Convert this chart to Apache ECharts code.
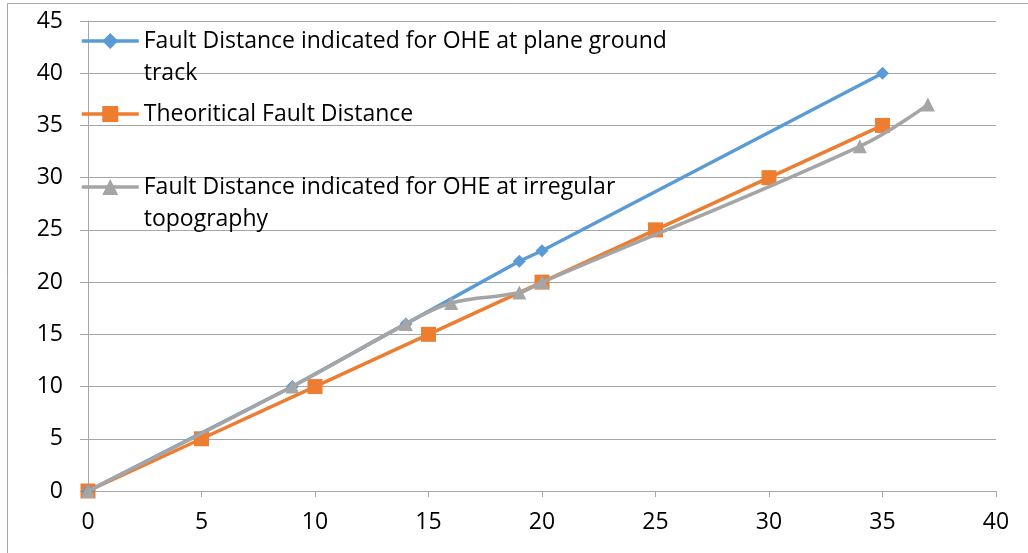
<!DOCTYPE html>
<html><head><meta charset="utf-8">
<script src="https://cdn.jsdelivr.net/npm/echarts@6/dist/echarts.min.js"></script>
<style>html,body{margin:0;padding:0;background:#fff;}#c{width:1028px;height:553px;}</style>
</head><body><div id="c"></div>
<script>
var seriesNames = [
  'Fault Distance indicated for OHE at plane ground track',
  'Theoritical Fault Distance',
  'Fault Distance indicated for OHE at irregular topography'
];
var legendLines = [
  ['Fault Distance indicated for OHE at plane ground', 'track'],
  ['Theoritical Fault Distance'],
  ['Fault Distance indicated for OHE at irregular', 'topography']
];
var planeX = [0, 9, 14, 19, 20, 35];
var planeY = [0, 10, 16, 22, 23, 40];
var theoX = [0, 5, 10, 15, 20, 25, 30, 35];
var theoY = [0, 5, 10, 15, 20, 25, 30, 35];
var irregX = [0, 9, 14, 16, 19, 20, 34, 37];
var irregY = [0, 10, 16, 18, 19, 20, 33, 37];
var xTicks = [0, 5, 10, 15, 20, 25, 30, 35, 40];
var yTicks = [0, 5, 10, 15, 20, 25, 30, 35, 40, 45];

function pairs(xs, ys) { return xs.map(function (x, i) { return [x, ys[i]]; }); }

var FONT = 'Open Sans';
var colors = ['#5b9bd5', '#ed7d31', '#a5a5a5'];
var chart = echarts.init(document.getElementById('c'), null, {renderer: 'canvas'});
function legendAt(idx, top) {
  var lines = legendLines[idx];
  var multi = lines.length > 1;
  return {
    data: [seriesNames[idx]], left: 80, top: top, orient: 'vertical',
    itemWidth: 57, itemHeight: 20, itemGap: 4, padding: 0,
    lineStyle: {width: 3.5, color: colors[idx]},
    formatter: function () { return (multi ? ' \n' : '') + lines.join('\n'); },
    textStyle: {fontFamily: FONT, fontSize: 23, color: '#000', lineHeight: 32},
    selectedMode: false
  };
}
chart.setOption({
  animation: false,
  backgroundColor: '#fff',
  graphic: [
    {type: 'line', shape: {x1: 7.5, y1: 3.5, x2: 1028, y2: 3.5}, style: {stroke: '#a6a6a6', lineWidth: 1}},
    {type: 'line', shape: {x1: 7.5, y1: 3.5, x2: 7.5, y2: 553}, style: {stroke: '#a6a6a6', lineWidth: 1}}
  ],
  legend: [
    legendAt(0, -7),
    legendAt(1, 98),
    legendAt(2, 139)
  ],
  grid: {left: 88, right: 32, top: 21, bottom: 62, containLabel: false},
  xAxis: {
    type: 'value', min: 0, max: 40, interval: 5,
    axisLine: {show: true, lineStyle: {color: '#a6a6a6', width: 1}},
    axisTick: {show: true, length: 6, lineStyle: {color: '#a6a6a6'}},
    splitLine: {show: false},
    axisLabel: {fontFamily: FONT, fontSize: 23, color: '#000', margin: 20,
      formatter: function (v) { return xTicks.indexOf(v) >= 0 ? String(v) : ''; }}
  },
  yAxis: {
    type: 'value', min: 0, max: 45, interval: 5,
    axisLine: {show: true, lineStyle: {color: '#a6a6a6', width: 1}},
    axisTick: {show: true, length: 8, lineStyle: {color: '#a6a6a6'}},
    splitLine: {show: true, lineStyle: {color: '#a6a6a6', width: 1}},
    axisLabel: {fontFamily: FONT, fontSize: 23, color: '#000', margin: 25,
      formatter: function (v) { return yTicks.indexOf(v) >= 0 ? String(v) : ''; }}
  },
  series: [
    {name: seriesNames[0], type: 'line', data: pairs(planeX, planeY),
      symbol: 'diamond', symbolSize: 13, showAllSymbol: true,
      lineStyle: {color: colors[0], width: 3.5}, itemStyle: {color: colors[0]}, z: 3},
    {name: seriesNames[1], type: 'line', data: pairs(theoX, theoY),
      symbol: 'rect', symbolSize: 15,
      lineStyle: {color: colors[1], width: 3.5}, itemStyle: {color: colors[1]}, z: 2},
    {name: seriesNames[2], type: 'line', data: pairs(irregX, irregY), smooth: 0.4,
      symbol: 'triangle', symbolSize: 14,
      lineStyle: {color: colors[2], width: 3.5}, itemStyle: {color: colors[2]}, z: 4}
  ]
});
</script></body></html>
